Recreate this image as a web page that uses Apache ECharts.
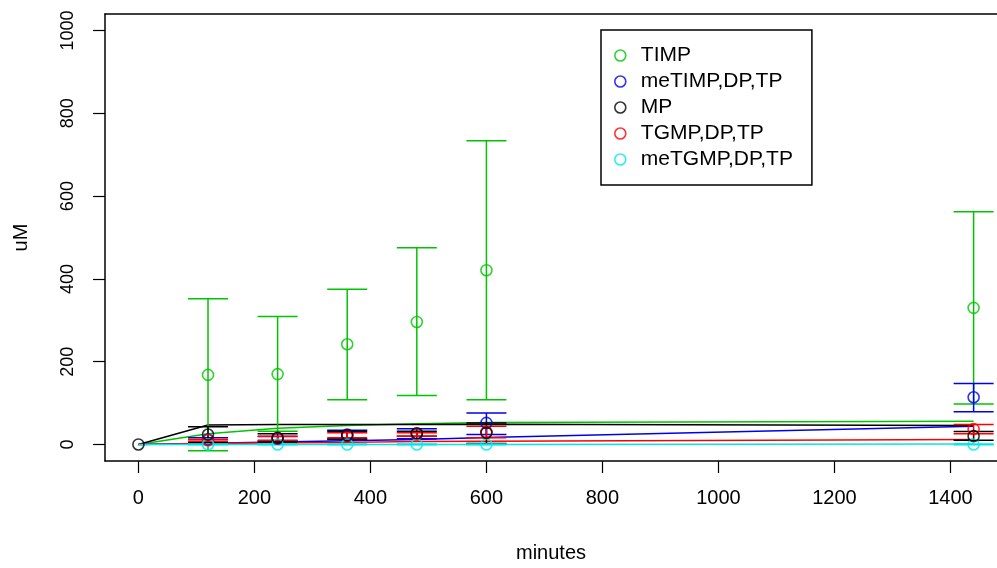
<!DOCTYPE html>
<html><head><meta charset="utf-8">
<script src="https://cdn.jsdelivr.net/npm/echarts@6/dist/echarts.min.js"></script>
<style>html,body{margin:0;padding:0;background:#fff}#c{width:997px;height:568px}</style>
</head><body><div id="c"></div>
<script>
// ---- data ----
const times = [0, 120, 240, 360, 480, 600, 1440];
const xTicks = [0, 200, 400, 600, 800, 1000, 1200, 1400];
const yTicks = [0, 200, 400, 600, 800, 1000];
const seriesNames = ['TIMP', 'meTIMP,DP,TP', 'MP', 'TGMP,DP,TP', 'meTGMP,DP,TP'];
const seriesColors = ['#00c400', '#0000ee', '#000000', '#ff0000', '#00e8e8'];

// observed means and error-bar limits (null = no point)
const TIMP_mean   = [null, 168, 170, 242, 296, 421, 330];
const TIMP_lo     = [null, -15,  32, 108, 118, 108,  98];
const TIMP_hi     = [null, 352, 309, 375, 475, 734, 562];
const meTIMP_mean = [null,  12,  14,  24,  26,  52, 114];
const meTIMP_lo   = [null,   6,   9,  14,  14,  24,  79];
const meTIMP_hi   = [null,  16,  19,  34,  38,  76, 147];
const MP_mean     = [0,     24,  16,  22,  27,  28,  20];
const MP_lo       = [null,   5,   6,  12,  20,   2,  10];
const MP_hi       = [null,  43,  26,  32,  32,  52,  31];
const TGMP_mean   = [null,  10,  15,  20,  24,  30,  37];
const TGMP_lo     = [null,   8,  10,  16,  20,  16,  26];
const TGMP_hi     = [null,  12,  20,  28,  28,  44,  48];
const meTGMP_mean = [null,   0,   0,   0,   0,   0,   0];
const meTGMP_lo   = [null,  -1,  -1,  -1,  -1,  -1,  -1];
const meTGMP_hi   = [null,   1,   1,   1,   1,   1,   1];

// fitted curves at the sample times
const TIMP_fit   = [0, 26, 39, 46, 50, 53, 56];
const meTIMP_fit = [0,  3,  6,  9, 12, 17, 44];
const MP_fit     = [0, 47, 48, 48, 48, 49, 46];
const TGMP_fit   = [0,  2,  4,  5,  7,  8, 12];
const meTGMP_fit = [0,  0,  0,  0,  0,  0,  1];

const means = [TIMP_mean, meTIMP_mean, MP_mean, TGMP_mean, meTGMP_mean];
const los = [TIMP_lo, meTIMP_lo, MP_lo, TGMP_lo, meTGMP_lo];
const his = [TIMP_hi, meTIMP_hi, MP_hi, TGMP_hi, meTGMP_hi];
const fits = [TIMP_fit, meTIMP_fit, MP_fit, TGMP_fit, meTGMP_fit];

const FONT = '"Liberation Sans", Arial, sans-serif';
const series = [];
// fit lines
fits.forEach((f, i) => {
  series.push({
    name: seriesNames[i] + ' fit', type: 'line', z: 2,
    data: times.map((t, k) => [t, f[k]]),
    showSymbol: false, symbol: 'none', silent: true,
    lineStyle: { color: seriesColors[i], width: 1.5 }
  });
});
// error bars
los.forEach((lo, i) => {
  const col = seriesColors[i];
  series.push({
    name: seriesNames[i] + ' err', type: 'custom', z: 3, clip: false,
    data: times.map((t, k) => lo[k] == null ? null : [t, lo[k], his[i][k]]).filter(d => d),
    encode: { x: 0, y: [1, 2] },
    renderItem: function (params, api) {
      const x = api.value(0), a = api.value(1), b = api.value(2);
      const p1 = api.coord([x, a]), p2 = api.coord([x, b]);
      const w = 20;
      const style = { stroke: col, lineWidth: 1.5, fill: null };
      return { type: 'group', children: [
        { type: 'line', shape: { x1: p1[0], y1: p1[1], x2: p2[0], y2: p2[1] }, style },
        { type: 'line', shape: { x1: p1[0] - w, y1: p1[1], x2: p1[0] + w, y2: p1[1] }, style },
        { type: 'line', shape: { x1: p2[0] - w, y1: p2[1], x2: p2[0] + w, y2: p2[1] }, style }
      ]};
    }
  });
});
// points
means.forEach((m, i) => {
  series.push({
    name: seriesNames[i], type: 'scatter', z: 4 + (i === 2 ? 1 : 0),
    data: times.map((t, k) => m[k] == null ? null : [t, m[k]]).filter(d => d),
    symbol: 'circle', symbolSize: 11,
    itemStyle: { color: 'rgba(0,0,0,0)', borderColor: seriesColors[i], borderWidth: 1.6 }
  });
});

const plain = v => String(v);
const boxLine = { show: true, onZero: false, lineStyle: { color: '#000', width: 1.5 } };
const chart = echarts.init(document.getElementById('c'), null, { renderer: 'canvas' });
chart.setOption({
  animation: false,
  backgroundColor: '#fff',
  textStyle: { fontFamily: FONT },
  grid: { left: 105, top: 14, right: 0, height: 447, show: false, containLabel: false },
  legend: {
    data: seriesNames.map((n, i) => ({ name: n, icon: 'circle', itemStyle: { color: '#fff', borderColor: seriesColors[i], borderWidth: 1.6 } })),
    orient: 'vertical', left: 601, top: 30,
    padding: [15, 19, 15, 13],
    itemGap: 5, itemWidth: 11, itemHeight: 11,
    borderColor: '#000', borderWidth: 1.5, backgroundColor: '#fff',
    textStyle: { fontSize: 21, color: '#000', fontFamily: FONT, padding: [0, 0, 0, 10] },
    selectedMode: false
  },
  xAxis: [{
    type: 'value', min: -57.6, max: 1480.3, position: 'bottom',
    name: 'minutes', nameLocation: 'middle', nameGap: 82,
    nameTextStyle: { fontSize: 20, color: '#000', fontFamily: FONT },
    axisLine: boxLine,
    axisTick: { show: true, length: 12, customValues: xTicks, lineStyle: { color: '#000', width: 1.2 } },
    axisLabel: { customValues: xTicks, fontSize: 20, color: '#000', margin: 27, fontFamily: FONT, formatter: plain },
    splitLine: { show: false }
  }, {
    type: 'value', min: -57.6, max: 1480.3, position: 'top',
    axisLine: boxLine, axisTick: { show: false }, axisLabel: { show: false }, splitLine: { show: false }
  }],
  yAxis: {
    type: 'value', min: -40, max: 1040,
    name: 'uM', nameLocation: 'middle', nameGap: 74, nameRotate: 90,
    nameTextStyle: { fontSize: 20, color: '#000', fontFamily: FONT },
    axisLine: boxLine,
    axisTick: { show: true, length: 12, customValues: yTicks, lineStyle: { color: '#000', width: 1.2 } },
    axisLabel: { customValues: yTicks, fontSize: 18, color: '#000', margin: 28, rotate: 90, fontFamily: FONT, formatter: plain },
    splitLine: { show: false }
  },
  series: series
});
</script>
</body></html>
